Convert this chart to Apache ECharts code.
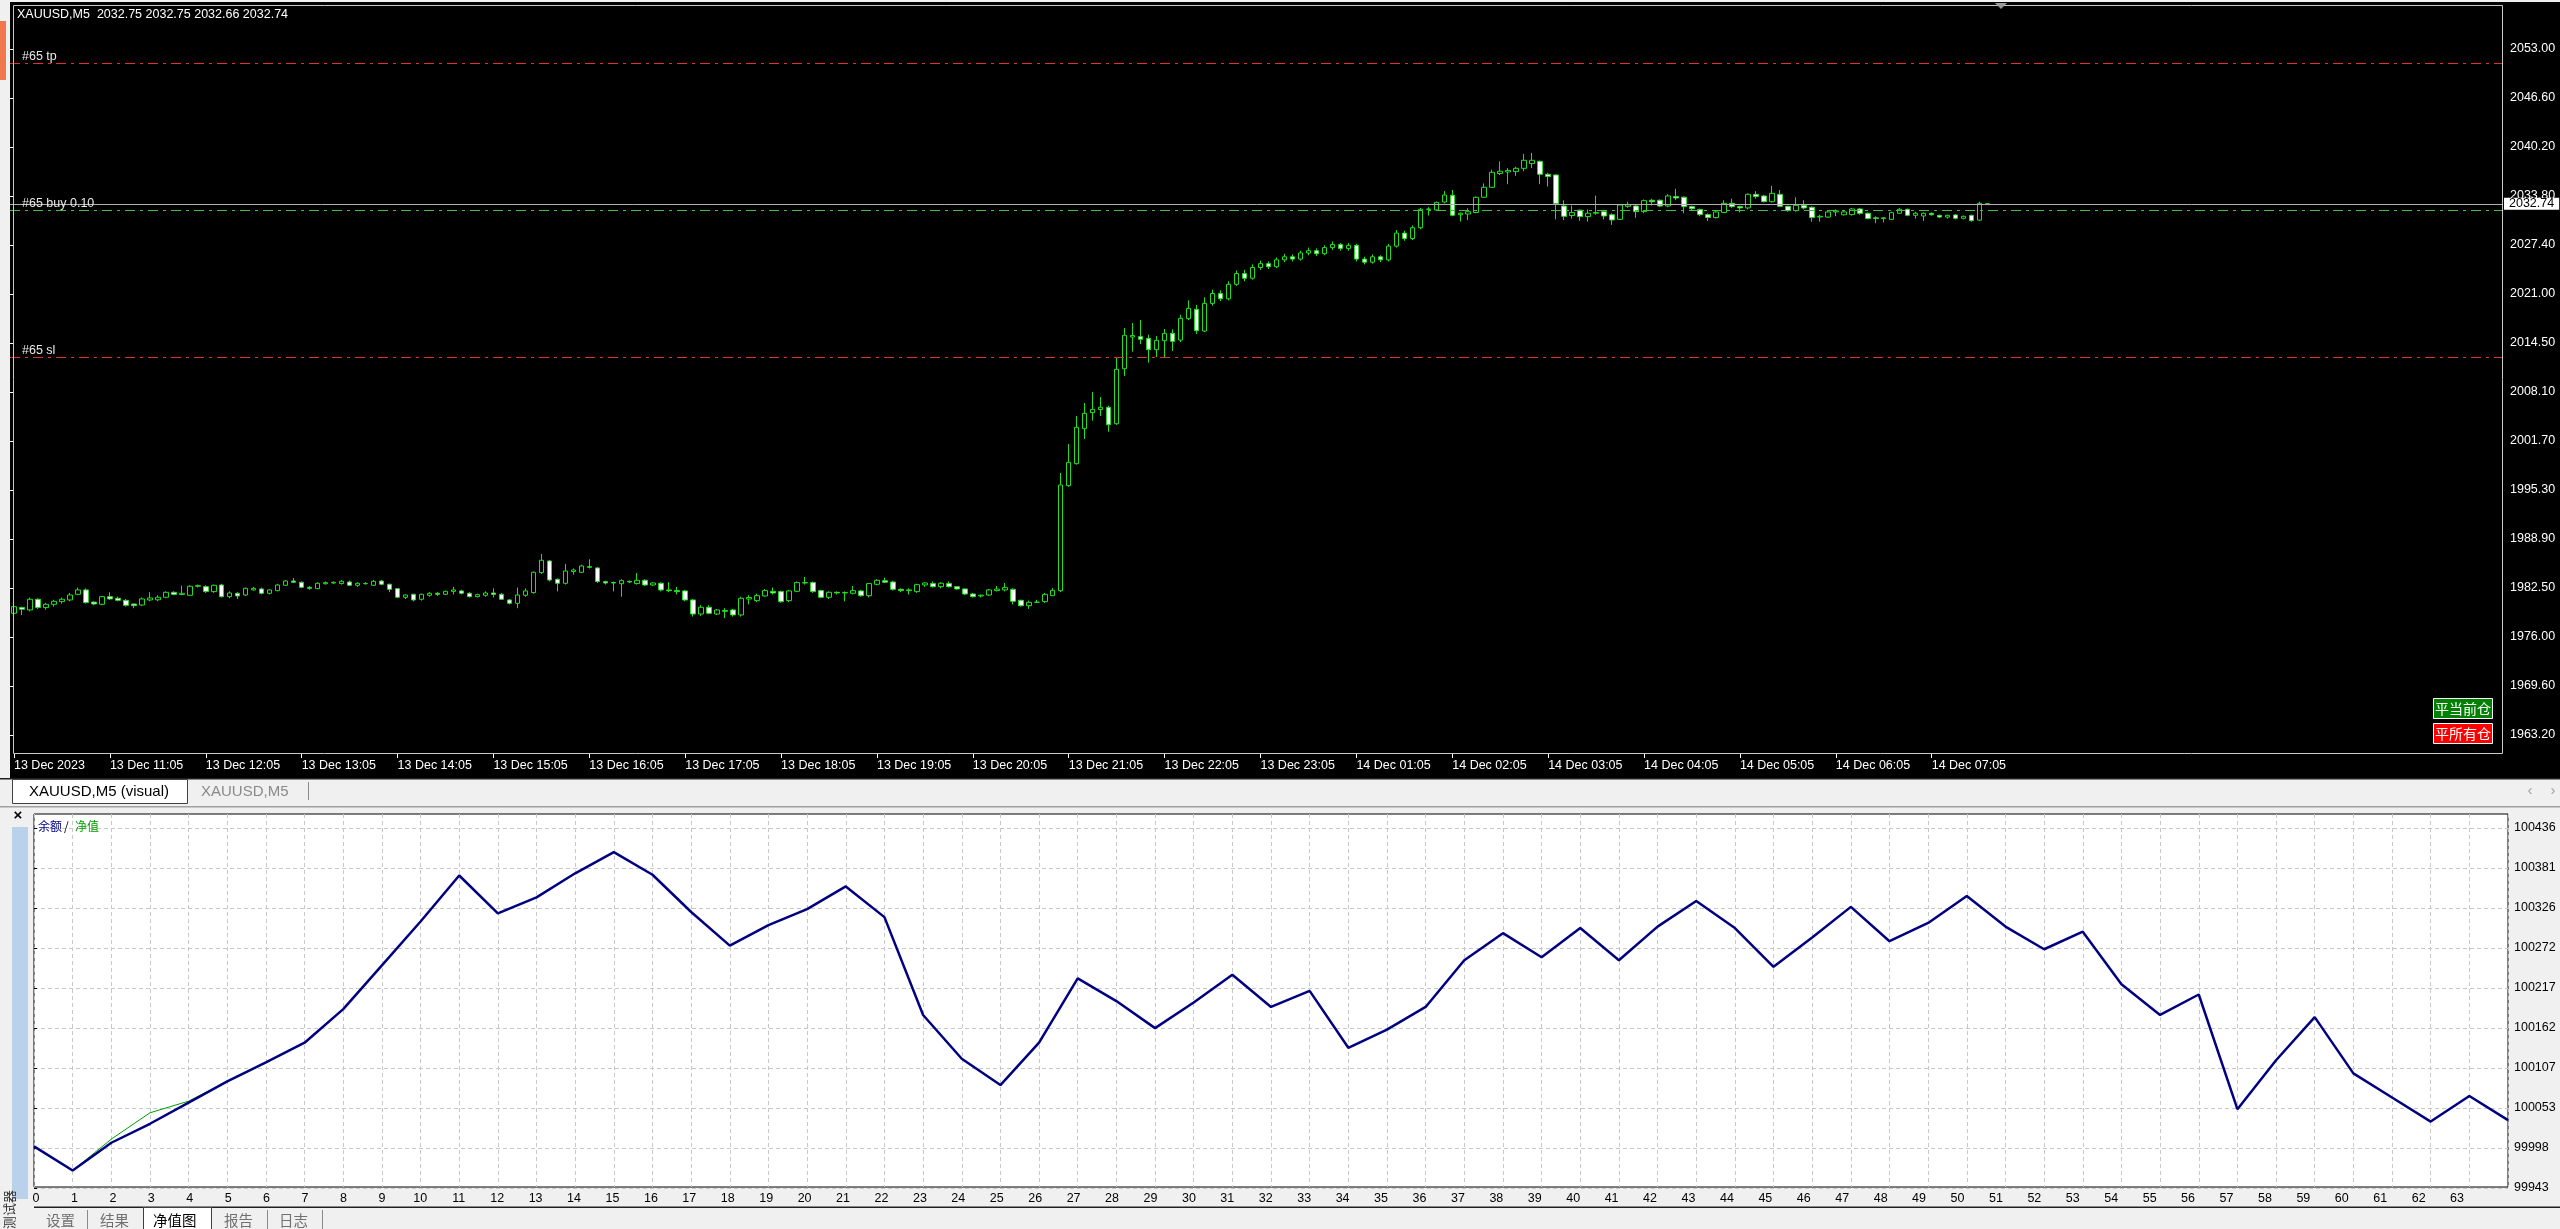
<!DOCTYPE html>
<html><head><meta charset="utf-8">
<script src="https://cdn.jsdelivr.net/npm/echarts/dist/echarts.min.js"></script>
<style>html,body{margin:0;padding:0;background:#f0f0f0;overflow:hidden}#c{width:2560px;height:1229px}</style>
</head><body><div id="c"></div>
<script>
// ---------- data ----------
const symbolTitle = 'XAUUSD,M5  2032.75 2032.75 2032.66 2032.74';
const hourLabels = ['13 Dec 2023','13 Dec 11:05','13 Dec 12:05','13 Dec 13:05','13 Dec 14:05','13 Dec 15:05','13 Dec 16:05','13 Dec 17:05','13 Dec 18:05','13 Dec 19:05','13 Dec 20:05','13 Dec 21:05','13 Dec 22:05','13 Dec 23:05','14 Dec 01:05','14 Dec 02:05','14 Dec 03:05','14 Dec 04:05','14 Dec 05:05','14 Dec 06:05','14 Dec 07:05'];
const barsPerLabel = 12;
const barSlots = 312;
const priceTicks = ['1963.20','1969.60','1976.00','1982.50','1988.90','1995.30','2001.70','2008.10','2014.50','2021.00','2027.40','2033.80','2040.20','2046.60','2053.00'];
const priceRange = [1960.713, 2058.76];
const tpPrice = 2051.17, openPrice = 2031.92, slPrice = 2012.68, bidPrice = 2032.74;
// [open, close, low, high]
const candles = [
[1979.13,1980.00,1979.0,1980.1],[1979.9,1979.66,1978.9,1980.0],[1979.57,1980.97,1979.4,1981.2],[1980.97,1979.88,1979.7,1981.1],
[1979.88,1980.31,1979.6,1980.5],[1980.31,1980.70,1980.0,1980.9],[1980.66,1980.97,1980.4,1981.2],[1980.88,1981.53,1980.7,1981.8],
[1981.62,1982.19,1981.5,1982.5],[1982.19,1980.53,1980.4,1982.4],[1980.6,1980.35,1980.2,1980.7],[1980.31,1981.31,1980.2,1981.4],
[1981.31,1981.01,1980.9,1981.88],[1981.1,1980.83,1980.7,1981.3],[1980.83,1980.18,1980.0,1981.0],[1980.35,1980.13,1979.8,1980.4],
[1980.22,1981.01,1980.1,1981.2],[1980.88,1981.14,1980.7,1981.9],[1980.9,1981.23,1980.7,1981.5],[1981.23,1981.88,1981.1,1982.0],
[1981.88,1981.6,1981.5,1982.0],[1981.6,1981.75,1981.5,1982.75],[1981.49,1982.67,1981.4,1982.8],[1982.67,1982.75,1982.5,1982.9],
[1982.62,1981.97,1981.8,1982.8],[1981.97,1982.80,1981.8,1982.9],[1982.84,1981.31,1981.2,1983.0],[1981.31,1981.79,1981.1,1982.0],
[1981.75,1981.40,1981.0,1981.9],[1981.53,1982.40,1981.4,1982.5],[1982.19,1982.40,1982.1,1982.6],[1982.32,1981.75,1981.6,1982.5],
[1981.75,1982.19,1981.6,1982.3],[1982.10,1982.84,1982.0,1983.0],[1982.80,1983.36,1982.7,1983.5],[1983.36,1983.2,1983.1,1983.75],
[1983.19,1982.53,1982.4,1983.3],[1982.53,1982.4,1982.2,1982.7],[1982.36,1983.06,1982.3,1983.2],[1983.0,1983.15,1982.9,1983.3],
[1983.1,1983.19,1983.0,1983.3],[1983.02,1983.32,1982.9,1983.5],[1983.23,1982.80,1982.7,1983.4],[1982.80,1983.06,1982.6,1983.2],
[1983.0,1983.05,1982.9,1983.2],[1982.80,1983.32,1982.7,1983.5],[1983.36,1982.93,1982.8,1983.5],[1982.93,1982.27,1981.9,1983.0],
[1982.36,1981.23,1981.1,1982.4],[1981.23,1981.53,1981.0,1981.6],[1981.62,1980.88,1980.7,1981.7],[1980.97,1981.62,1980.8,1981.7],
[1981.49,1981.75,1981.3,1981.9],[1981.75,1981.62,1981.4,1981.9],[1981.62,1982.01,1981.5,1982.1],[1982.0,1982.19,1981.6,1982.6],
[1982.06,1981.75,1981.6,1982.2],[1981.75,1981.31,1981.2,1981.9],[1981.31,1981.57,1981.2,1981.7],[1981.49,1981.79,1981.3,1982.0],
[1981.79,1981.60,1981.2,1982.4],[1981.62,1980.97,1980.9,1981.8],[1980.88,1980.44,1980.3,1981.0],[1980.44,1981.53,1979.8,1982.5],
[1981.49,1982.06,1981.3,1982.4],[1981.84,1984.50,1981.7,1984.6],[1984.46,1986.07,1984.3,1986.9],[1985.98,1983.49,1983.3,1986.1],
[1983.58,1983.06,1982.0,1983.7],[1983.06,1984.67,1982.9,1985.6],[1984.6,1984.8,1984.2,1985.0],[1984.50,1985.33,1984.4,1985.5],
[1985.24,1985.15,1985.0,1986.2],[1985.07,1983.28,1983.1,1985.2],[1983.28,1983.1,1982.9,1983.4],[1983.15,1983.1,1982.0,1983.3],
[1983.0,1983.41,1981.3,1983.6],[1983.32,1983.23,1983.1,1983.4],[1983.02,1983.45,1982.9,1984.4],[1983.45,1982.84,1982.7,1983.6],
[1982.84,1983.10,1982.7,1983.2],[1983.06,1982.19,1982.0,1983.2],[1982.19,1982.1,1981.9,1983.2],[1982.1,1982.0,1981.6,1982.6],
[1982.06,1980.88,1980.7,1982.2],[1980.88,1979.04,1978.7,1981.0],[1979.04,1979.92,1978.8,1980.2],[1979.92,1979.13,1979.0,1980.2],
[1979.04,1979.57,1978.9,1979.7],[1979.5,1979.4,1978.5,1979.8],[1979.57,1978.92,1978.7,1979.7],[1978.92,1981.10,1978.7,1981.3],
[1981.0,1981.2,1980.3,1981.5],[1980.79,1981.44,1980.6,1981.7],[1981.40,1982.10,1981.3,1982.3],[1982.0,1981.8,1981.6,1982.5],
[1981.97,1980.66,1980.5,1982.1],[1980.79,1982.06,1980.6,1982.2],[1982.01,1983.15,1981.9,1983.3],[1983.1,1983.15,1982.9,1983.9],
[1983.15,1981.97,1981.8,1983.3],[1982.1,1981.23,1981.1,1982.2],[1981.23,1981.88,1981.0,1982.0],[1981.88,1981.8,1981.6,1982.0],
[1981.8,1981.85,1980.7,1982.0],[1981.75,1982.10,1981.6,1982.7],[1982.06,1981.44,1981.3,1982.2],[1981.44,1983.02,1981.2,1983.1],
[1982.93,1983.45,1982.8,1983.6],[1983.4,1983.2,1983.1,1983.8],[1983.23,1982.27,1982.1,1983.4],[1982.27,1982.1,1981.9,1982.4],
[1982.1,1982.2,1981.6,1982.4],[1981.97,1982.88,1981.8,1983.0],[1982.84,1983.1,1982.6,1983.2],[1983.02,1982.62,1982.5,1983.3],
[1982.62,1983.06,1982.4,1983.2],[1983.02,1982.62,1982.5,1983.3],[1982.62,1982.32,1982.2,1982.7],[1982.32,1981.66,1981.5,1982.4],
[1981.66,1981.31,1981.2,1981.8],[1981.4,1981.5,1981.2,1981.6],[1981.53,1982.19,1981.4,1982.3],[1982.1,1982.3,1982.0,1982.7],
[1982.19,1982.49,1982.0,1983.1],[1982.27,1980.70,1980.3,1982.4],[1980.83,1980.13,1980.0,1980.9],[1980.13,1980.57,1979.7,1980.8],
[1980.57,1980.6,1980.5,1980.9],[1980.66,1981.61,1980.5,1981.8],[1981.44,1982.14,1981.4,1982.44],[1982.09,1995.93,1981.9,1997.5],
[1995.84,1998.89,1995.7,2001.29],[1998.72,2003.47,1998.6,2004.96],[2003.30,2005.31,2001.95,2006.66],[2005.4,2005.83,2004.35,2008.10],
[2005.8,2006.1,2004.96,2007.44],[2006.09,2003.82,2002.9,2006.3],[2003.95,2011.07,2003.8,2012.64],[2011.15,2015.52,2010.2,2016.47],
[2015.3,2015.5,2013.38,2017.13],[2015.35,2015.0,2014.38,2017.52],[2015.12,2013.64,2011.94,2015.6],[2013.64,2014.86,2012.68,2015.43],
[2014.82,2015.78,2012.64,2016.34],[2015.78,2014.73,2013.47,2016.3],[2014.9,2017.74,2014.64,2018.22],[2017.7,2019.05,2017.5,2020.1],
[2018.92,2016.13,2015.7,2019.5],[2016.08,2019.70,2015.95,2020.5],[2019.7,2021.0,2019.4,2021.5],[2021.0,2020.3,2020.0,2021.4],
[2020.3,2022.2,2020.1,2022.6],[2022.2,2023.6,2022.0,2024.0],[2023.6,2023.0,2022.6,2024.1],[2023.0,2024.4,2022.8,2024.8],
[2024.4,2024.9,2024.1,2025.3],[2024.9,2024.5,2024.2,2025.2],[2024.5,2025.4,2024.3,2025.7],[2025.4,2025.8,2025.1,2026.2],
[2025.8,2025.5,2025.2,2026.1],[2025.5,2026.3,2025.3,2026.6],[2026.3,2026.6,2026.0,2027.0],[2026.6,2026.2,2025.9,2026.9],
[2026.2,2027.0,2026.0,2027.3],[2027.0,2027.4,2026.7,2027.8],[2027.4,2026.9,2026.6,2027.6],[2026.9,2027.3,2026.6,2027.6],
[2027.3,2025.5,2025.2,2027.5],[2025.5,2025.1,2024.8,2025.8],[2025.1,2025.8,2024.9,2026.1],[2025.8,2025.4,2025.1,2026.0],
[2025.4,2027.2,2025.2,2027.5],[2027.2,2028.9,2027.0,2029.3],[2028.9,2028.2,2027.9,2029.2],[2028.2,2029.6,2028.0,2029.9],
[2029.6,2032.02,2029.4,2032.2],[2032.0,2032.06,2031.2,2032.3],[2031.93,2032.93,2031.8,2033.0],[2032.97,2033.89,2032.8,2034.4],
[2033.85,2031.23,2031.1,2034.55],[2031.3,2031.5,2030.4,2031.6],[2031.4,2031.7,2030.6,2032.15],[2031.6,2033.59,2031.5,2033.7],
[2033.6,2034.90,2033.5,2035.4],[2034.9,2036.86,2034.8,2037.2],[2036.7,2037.0,2036.5,2038.3],[2036.9,2037.1,2035.3,2037.4],
[2036.95,2037.38,2036.4,2037.6],[2037.38,2038.43,2037.0,2039.26],[2038.0,2038.43,2037.4,2039.4],[2038.3,2036.6,2035.3,2038.4],
[2036.6,2036.3,2035.0,2036.8],[2036.51,2032.76,2030.7,2036.6],[2032.45,2031.10,2030.6,2033.2],[2031.2,2031.6,2030.8,2032.5],
[2031.9,2031.06,2030.5,2032.0],[2031.06,2031.5,2030.4,2032.0],[2031.5,2031.6,2031.3,2033.8],[2031.7,2031.14,2030.7,2031.8],
[2031.3,2030.62,2029.97,2031.5],[2030.7,2032.58,2030.6,2032.7],[2032.4,2032.6,2032.2,2033.0],[2032.45,2031.71,2030.9,2032.6],
[2031.71,2033.15,2031.5,2033.3],[2033.2,2033.0,2032.5,2033.4],[2033.2,2032.45,2032.3,2033.3],[2032.45,2033.76,2032.3,2034.0],
[2033.7,2033.5,2033.2,2034.7],[2033.6,2032.37,2031.5,2033.7],[2032.37,2032.1,2031.9,2032.5],[2032.0,2031.32,2031.1,2032.1],
[2031.32,2030.93,2030.5,2031.5],[2030.93,2031.67,2030.8,2031.8],[2031.6,2032.80,2031.5,2033.2],[2032.8,2032.37,2032.2,2033.4],
[2032.37,2032.2,2031.6,2032.5],[2032.2,2033.98,2032.0,2034.1],[2033.98,2033.7,2033.4,2034.4],[2033.76,2033.02,2032.9,2033.9],
[2033.02,2034.11,2032.9,2035.07],[2033.98,2032.41,2032.3,2034.55],[2032.41,2031.84,2031.7,2032.5],[2031.84,2032.54,2031.7,2033.59],
[2032.54,2032.19,2032.0,2033.2],[2032.28,2030.93,2030.4,2032.4],[2031.0,2031.1,2030.4,2031.3],[2031.0,2031.67,2030.9,2031.9],
[2031.67,2031.8,2031.1,2032.0],[2031.3,2031.67,2031.2,2031.8],[2031.32,2032.06,2031.2,2032.2],[2032.06,2031.49,2031.3,2032.2],
[2031.5,2030.8,2030.7,2031.6],[2030.9,2030.8,2030.2,2031.1],[2030.8,2030.9,2030.3,2031.0],[2030.7,2031.58,2030.6,2031.7],
[2031.5,2032.02,2031.4,2032.2],[2032.02,2031.23,2031.1,2032.1],[2031.23,2031.5,2030.8,2031.7],[2031.14,2031.49,2030.5,2031.6],
[2031.49,2031.3,2031.2,2031.6],[2031.23,2031.0,2030.9,2031.3],[2031.0,2031.23,2030.8,2031.3],[2031.28,2030.84,2030.7,2031.4],
[2030.84,2031.1,2030.7,2031.2],[2031.23,2030.53,2030.4,2031.3],[2030.6,2032.80,2030.5,2033.0],[2032.75,2032.74,2032.66,2032.75]
];
const tradeCount = 64;
const balance = [100000,99967,100005,100031,100060,100089,100115,100142,100188,100248,100308,100371,100319,100341,100374,100403,100372,100321,100275,100303,100325,100356,100314,100180,100120,100084,100142,100230,100199,100162,100197,100235,100191,100213,100135,100160,100191,100255,100292,100259,100299,100255,100301,100336,100299,100246,100286,100328,100281,100306,100343,100301,100270,100294,100222,100180,100208,100051,100118,100177,100100,100067,100034,100069,100036];
const equity  = [100000,99967,100010,100046,100062,100089,100115,100142,100188,100248,100308,100371,100319,100341,100374,100403,100372,100321,100275,100303,100325,100356,100314,100180,100120,100084,100142,100230,100199,100162,100197,100235,100191,100213,100135,100160,100191,100255,100292,100259,100299,100255,100301,100336,100299,100246,100286,100328,100281,100306,100343,100301,100270,100294,100222,100180,100208,100051,100118,100177,100100,100067,100034,100069,100036];
const equityTicks = ['99943','99998','100053','100107','100162','100217','100272','100326','100381','100436'];
const equityRange = [99944.4, 100455.2];

// ---------- chart ----------
const F = '"Liberation Sans", Arial, sans-serif';
const CJK = '"Noto Sans CJK SC", sans-serif';
const slots = Array.from({length: barSlots}, (_, i) => i);
const showHour = (i) => i % barsPerLabel === 0 && i / barsPerLabel < hourLabels.length;
const dashDot = [10, 5, 3, 5];

const chart = echarts.init(document.getElementById('c'), null, {renderer: 'canvas'});
chart.setOption({
  animation: false,
  backgroundColor: 'transparent',
  grid: [
    {left: 10, top: 5, width: 2493, height: 749, show: false},
    {left: 10, top: 49, width: 2493, height: 686, show: false},
    {left: 34, top: 814, width: 2474, height: 373, show: true, backgroundColor: '#ffffff', borderColor: '#000000', borderWidth: 1},
    {left: 34, top: 828, width: 2474, height: 360, show: false},
    {left: 36, top: 828, width: 2459.5, height: 359, show: false}
  ],
  xAxis: [
    {type: 'category', gridIndex: 0, data: slots, boundaryGap: true,
     axisLine: {show: false},
     axisTick: {show: true, alignWithLabel: true, interval: showHour, length: 4, lineStyle: {color: '#ffffff'}},
     axisLabel: {interval: showHour, formatter: (v, i) => hourLabels[Math.round(Number(v) / barsPerLabel)] || '',
       color: '#ffffff', fontFamily: F, fontSize: 12.5, align: 'left', margin: 5},
     splitLine: {show: false}},
    {type: 'value', gridIndex: 1, show: false, min: 0, max: 1},
    {type: 'value', gridIndex: 2, min: 0, max: tradeCount, interval: 1,
     axisLine: {show: false}, axisTick: {show: false}, axisLabel: {show: false},
     splitLine: {show: true, lineStyle: {color: '#c8c8c8', type: [4, 3], width: 1}}},
    {type: 'value', gridIndex: 3, show: false, min: 0, max: 1},
    {type: 'value', gridIndex: 4, min: 0, max: tradeCount, interval: 1,
     axisLine: {show: false}, axisTick: {show: false}, splitLine: {show: false},
     axisLabel: {color: '#000000', fontFamily: F, fontSize: 12.5, margin: 5,
       formatter: (v) => v < tradeCount ? String(v) : '', showMaxLabel: false}}
  ],
  yAxis: [
    {type: 'value', gridIndex: 0, min: priceRange[0], max: priceRange[1], show: false},
    {type: 'value', gridIndex: 1, min: 0, max: priceTicks.length - 1, interval: 1, position: 'right',
     axisLine: {show: false},
     axisTick: {show: true, length: 4, lineStyle: {color: '#ffffff'}},
     axisLabel: {color: '#ffffff', fontFamily: F, fontSize: 12.5, margin: 7, formatter: (v) => priceTicks[Math.round(v)]},
     splitLine: {show: false}},
    {type: 'value', gridIndex: 2, min: equityRange[0], max: equityRange[1], show: false},
    {type: 'value', gridIndex: 3, min: 0, max: equityTicks.length - 1, interval: 1, position: 'right',
     axisLine: {show: false},
     axisTick: {show: true, length: 3, lineStyle: {color: '#000000'}},
     axisLabel: {color: '#000000', fontFamily: F, fontSize: 12.5, margin: 6, formatter: (v) => equityTicks[Math.round(v)]},
     splitLine: {show: true, lineStyle: {color: '#c8c8c8', type: [4, 3], width: 1}}},
    {type: 'value', gridIndex: 4, show: false, min: 0, max: 1}
  ],
  series: [
    {type: 'candlestick', xAxisIndex: 0, yAxisIndex: 0, data: candles, barWidth: 5,
     itemStyle: {color: '#000000', color0: '#ffffff', borderColor: '#22dd22', borderColor0: '#22dd22', borderWidth: 1},
     markLine: {symbol: 'none', silent: true, animation: false,
       data: [
        {yAxis: tpPrice, lineStyle: {color: '#e03030', type: dashDot, width: 1},
         label: {formatter: '#65 tp', position: 'insideStartTop', distance: 0, padding: [0, 0, 0, 12], color: '#e8e8e8', fontFamily: F, fontSize: 12.5}},
        {yAxis: openPrice, lineStyle: {color: '#40c040', type: dashDot, width: 1},
         label: {formatter: '#65 buy 0.10', position: 'insideStartTop', distance: 0, padding: [0, 0, 0, 12], color: '#e8e8e8', fontFamily: F, fontSize: 12.5}},
        {yAxis: slPrice, lineStyle: {color: '#e03030', type: dashDot, width: 1},
         label: {formatter: '#65 sl', position: 'insideStartTop', distance: 0, padding: [0, 0, 0, 12], color: '#e8e8e8', fontFamily: F, fontSize: 12.5}},
        {yAxis: bidPrice, lineStyle: {color: '#b0b0b0', type: 'solid', width: 1},
         label: {formatter: bidPrice.toFixed(2), position: 'end', distance: 1, backgroundColor: '#ffffff', color: '#000000',
           padding: [0, 5, 0, 5], lineHeight: 12, fontFamily: F, fontSize: 12.5}}
       ]}},
    {type: 'line', name: '净值', xAxisIndex: 2, yAxisIndex: 2, data: equity.map((v, i) => [i, v]),
     symbol: 'none', lineStyle: {color: '#00a000', width: 1}, z: 3},
    {type: 'line', name: '余额', xAxisIndex: 2, yAxisIndex: 2, data: balance.map((v, i) => [i, v]),
     symbol: 'none', lineStyle: {color: '#000080', width: 2.5}, z: 4}
  ],
  graphic: [
    {type: 'rect', z: -10, shape: {x: 10, y: 2, width: 2550, height: 776}, style: {fill: '#000000'}},
    {type: 'rect', z: -10, shape: {x: 0, y: 21, width: 6, height: 59}, style: {fill: '#f0784c'}},
    {type: 'rect', z: 50, shape: {x: 13.5, y: 5.5, width: 2489, height: 748}, style: {fill: 'none', stroke: '#c8c8c8', lineWidth: 1}},
    {type: 'polygon', z: 50, shape: {points: [[1995, 3], [2007, 3], [2001, 9]]}, style: {fill: '#9a9a9a'}},
    {type: 'text', z: 60, x: 17, y: 15, style: {text: symbolTitle, fill: '#ffffff', font: '12.5px ' + F, verticalAlign: 'middle'}},
    // buttons
    {type: 'rect', z: 60, shape: {x: 2433.5, y: 698.5, width: 59, height: 20}, style: {fill: '#008000', stroke: '#ffffff', lineWidth: 1}},
    {type: 'text', z: 61, x: 2463, y: 708.5, style: {text: '平当前仓', fill: '#ffffff', font: '14px ' + CJK, align: 'center', verticalAlign: 'middle'}},
    {type: 'rect', z: 60, shape: {x: 2433.5, y: 723.5, width: 59, height: 20}, style: {fill: '#ff0000', stroke: '#ffffff', lineWidth: 1}},
    {type: 'text', z: 61, x: 2463, y: 733.5, style: {text: '平所有仓', fill: '#ffffff', font: '14px ' + CJK, align: 'center', verticalAlign: 'middle'}},
    // chart tab bar
    {type: 'rect', z: 5, shape: {x: 0, y: 778, width: 2560, height: 1.5}, style: {fill: '#202020'}},
    {type: 'rect', z: 5, shape: {x: 12.5, y: 779.5, width: 175, height: 24}, style: {fill: '#ffffff', stroke: '#404040', lineWidth: 1}},
    {type: 'text', z: 6, x: 29, y: 792, style: {text: 'XAUUSD,M5 (visual)', fill: '#000000', font: '15px ' + F, verticalAlign: 'middle'}},
    {type: 'text', z: 6, x: 201, y: 792, style: {text: 'XAUUSD,M5', fill: '#8a8a8a', font: '15px ' + F, verticalAlign: 'middle'}},
    {type: 'rect', z: 6, shape: {x: 308, y: 782, width: 1, height: 18}, style: {fill: '#8a8a8a'}},
    {type: 'text', z: 6, x: 2530, y: 791, style: {text: '‹', fill: '#a0a0a0', font: '15px ' + F, align: 'center', verticalAlign: 'middle'}},
    {type: 'text', z: 6, x: 2553, y: 791, style: {text: '›', fill: '#a0a0a0', font: '15px ' + F, align: 'center', verticalAlign: 'middle'}},
    {type: 'rect', z: 5, shape: {x: 0, y: 806, width: 2560, height: 1.5}, style: {fill: '#a0a0a0'}},
    // tester panel
    {type: 'text', z: 6, x: 18, y: 816, style: {text: '×', fill: '#000000', font: 'bold 15px ' + F, align: 'center', verticalAlign: 'middle'}},
    {type: 'rect', z: 5, shape: {x: 12, y: 827, width: 16, height: 372}, style: {fill: '#b9d1ea'}},
    {type: 'text', z: 6, x: 9, y: 1229, rotation: Math.PI / 2, style: {text: '测试器', fill: '#303030', font: '13px ' + CJK, align: 'left', verticalAlign: 'middle'}},
    {type: 'text', z: 6, x: 38, y: 826, style: {text: '余额', fill: '#000080', font: '12px ' + CJK, verticalAlign: 'middle'}},
    {type: 'text', z: 6, x: 64, y: 826, style: {text: '/', fill: '#000000', font: '12px ' + CJK, verticalAlign: 'middle'}},
    {type: 'text', z: 6, x: 75, y: 826, style: {text: '净值', fill: '#00a000', font: '12px ' + CJK, verticalAlign: 'middle'}},
    // bottom tabs
    {type: 'rect', z: 5, shape: {x: 34, y: 1206.5, width: 2526, height: 1.5}, style: {fill: '#202020'}},
    {type: 'rect', z: 5, shape: {x: 143.5, y: 1207.5, width: 68, height: 23}, style: {fill: '#ffffff', stroke: '#404040', lineWidth: 1}},
    {type: 'text', z: 6, x: 46, y: 1220, style: {text: '设置', fill: '#707070', font: '14.5px ' + CJK, verticalAlign: 'middle'}},
    {type: 'rect', z: 6, shape: {x: 87, y: 1210, width: 1, height: 19}, style: {fill: '#8a8a8a'}},
    {type: 'text', z: 6, x: 100, y: 1220, style: {text: '结果', fill: '#707070', font: '14.5px ' + CJK, verticalAlign: 'middle'}},
    {type: 'text', z: 6, x: 153, y: 1220, style: {text: '净值图', fill: '#000000', font: '14.5px ' + CJK, verticalAlign: 'middle'}},
    {type: 'text', z: 6, x: 224, y: 1220, style: {text: '报告', fill: '#707070', font: '14.5px ' + CJK, verticalAlign: 'middle'}},
    {type: 'rect', z: 6, shape: {x: 267, y: 1210, width: 1, height: 19}, style: {fill: '#8a8a8a'}},
    {type: 'text', z: 6, x: 279, y: 1220, style: {text: '日志', fill: '#707070', font: '14.5px ' + CJK, verticalAlign: 'middle'}},
    {type: 'rect', z: 6, shape: {x: 322, y: 1210, width: 1, height: 19}, style: {fill: '#8a8a8a'}}
  ]
});
</script></body></html>
